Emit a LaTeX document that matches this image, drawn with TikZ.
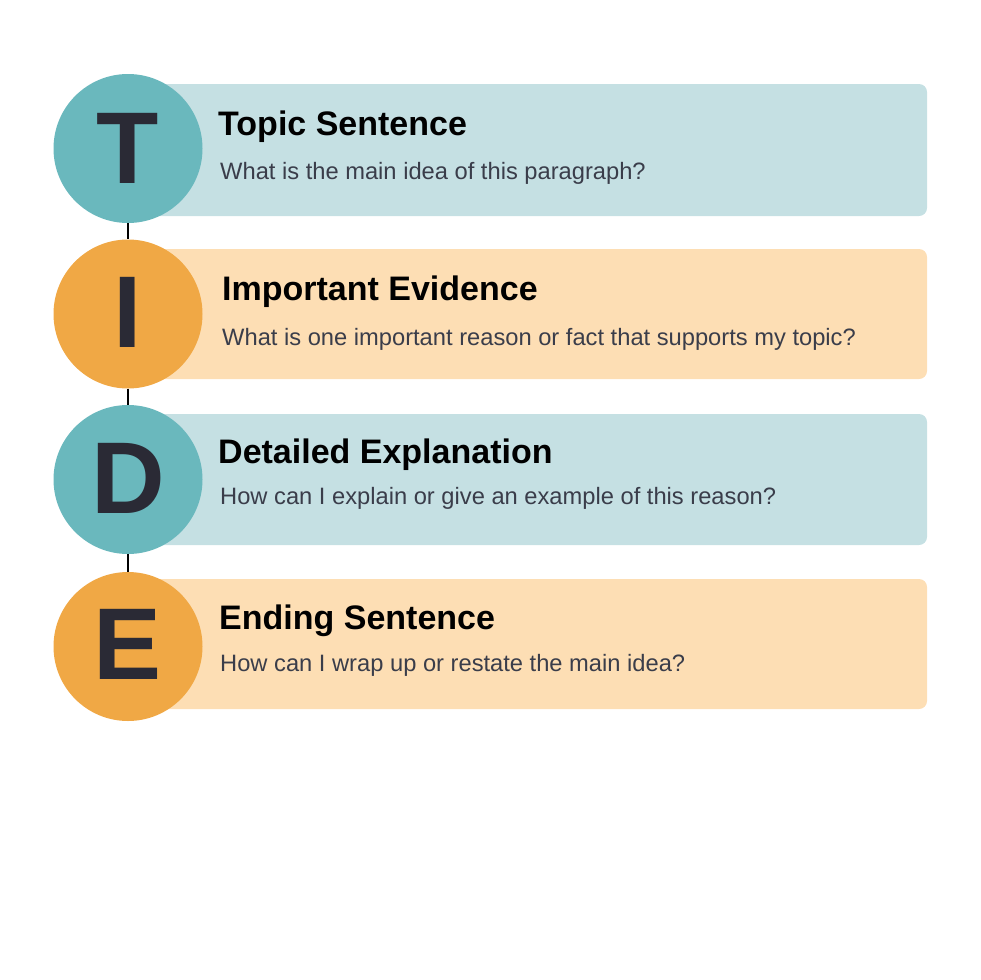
\documentclass[tikz,border=0pt]{standalone}
\usepackage{fontspec}
\setmainfont{Liberation Sans}
\definecolor{tealdark}{RGB}{106,184,189}
\definecolor{teallight}{RGB}{197,224,227}
\definecolor{orangedark}{RGB}{240,168,69}
\definecolor{orangelight}{RGB}{253,222,180}
\definecolor{letterink}{RGB}{42,42,53}
\definecolor{subink}{RGB}{58,61,74}
\begin{document}
\begin{tikzpicture}[x=1pt,y=-1pt,
  letter/.style={circle,minimum size=149pt,inner sep=0pt},
  initial/.style={anchor=base,inner sep=0pt,font=\fontsize{102}{102}\selectfont\bfseries,text=letterink},
  heading/.style={anchor=base west,inner sep=0pt,font=\fontsize{34}{34}\selectfont\bfseries},
  question/.style={anchor=base west,inner sep=0pt,font=\fontsize{23.7}{23.7}\selectfont,text=subink}]
\useasboundingbox (0,0) rectangle (980,980);
\fill[color=teallight, rounded corners=8pt] (128,84) rectangle (927,216);
\fill[color=orangelight, rounded corners=8pt] (128,249) rectangle (927,379);
\fill[color=teallight, rounded corners=8pt] (128,414) rectangle (927,545);
\fill[color=orangelight, rounded corners=8pt] (128,579) rectangle (927,709);
\node[letter,fill=tealdark] (circT) at (128,148.5) {};
\node[letter,fill=orangedark] (circI) at (128,314) {};
\node[letter,fill=tealdark] (circD) at (128,479.5) {};
\node[letter,fill=orangedark] (circE) at (128,646.5) {};
\draw[line width=2pt] (circT) -- (circI);
\draw[line width=2pt] (circI) -- (circD);
\draw[line width=2pt] (circD) -- (circE);
\node[initial] (letT) at (128,183) {T};
\node[initial] (letI) at (128,347) {I};
\node[initial] (letD) at (128,513) {D};
\node[initial] (letE) at (128,679) {E};
\node[heading] (headT) at (218,135) {Topic Sentence};
\node[question] (askT) at (220,179) {What is the main idea of this paragraph?};
\node[heading] (headI) at (222,300) {Important Evidence};
\node[question] (askI) at (222,345) {What is one important reason or fact that supports my topic?};
\node[heading] (headD) at (218,463) {Detailed Explanation};
\node[question] (askD) at (220,504) {How can I explain or give an example of this reason?};
\node[heading] (headE) at (219,629) {Ending Sentence};
\node[question] (askE) at (220,671) {How can I wrap up or restate the main idea?};
\end{tikzpicture}
\end{document}
